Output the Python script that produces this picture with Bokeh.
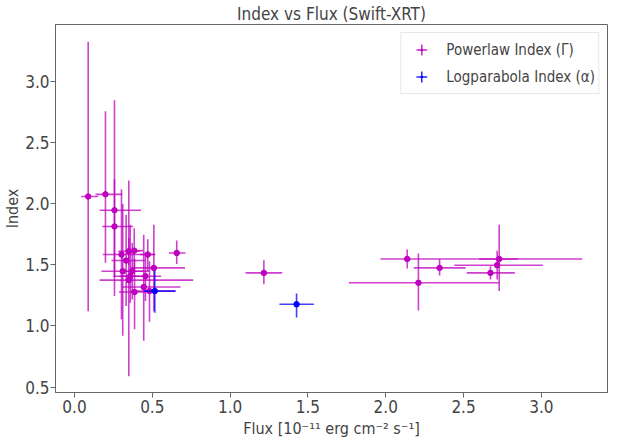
from bokeh.plotting import figure
from bokeh.models import (ColumnDataSource, Legend, LegendItem, Range1d,
                          FixedTicker, PrintfTickFormatter)
from bokeh.embed import file_html
from bokeh.resources import INLINE

# ---- data ----
# Powerlaw index (Gamma) vs flux [1e-11 erg cm^-2 s^-1]
pl_flux    = [0.088, 0.199, 0.257, 0.257, 0.302, 0.310, 0.332, 0.349, 0.349, 0.358,
              0.371, 0.384, 0.386, 0.445, 0.456, 0.471, 0.482, 0.510, 0.657, 1.217,
              2.138, 2.346, 2.210, 2.673, 2.716, 2.729]
pl_flux_lo = [0.043, 0.135, 0.161, 0.178, 0.182, 0.173, 0.238, 0.161, 0.281, 0.250,
              0.300, 0.330, 0.285, 0.306, 0.291, 0.420, 0.360, 0.360, 0.606, 1.099,
              1.967, 2.180, 1.763, 2.520, 2.440, 2.600]
pl_flux_hi = [0.152, 0.307, 0.428, 0.377, 0.516, 0.481, 0.452, 0.763, 0.420, 0.450,
              0.440, 0.440, 0.488, 0.681, 0.557, 0.520, 0.649, 0.710, 0.713, 1.335,
              3.263, 2.513, 2.727, 2.830, 3.010, 2.850]
pl_index    = [2.059, 2.077, 1.947, 1.814, 1.584, 1.448, 1.535, 1.375, 1.611, 1.407,
               1.448, 1.616, 1.277, 1.318, 1.407, 1.584, 1.285, 1.475, 1.597, 1.434,
               1.548, 1.475, 1.353, 1.434, 1.497, 1.548]
pl_index_lo = [1.120, 1.516, 1.244, 1.400, 1.054, 0.919, 1.163, 0.587, 1.500, 1.190,
               1.217, 1.450, 0.973, 0.878, 1.204, 1.450, 1.035, 1.120, 1.507, 1.340,
               1.470, 1.413, 1.127, 1.380, 1.380, 1.285]
pl_index_hi = [3.326, 2.757, 2.846, 2.200, 2.118, 1.997, 1.910, 2.190, 1.720, 1.828,
               1.680, 1.800, 1.550, 1.747, 1.600, 1.710, 1.530, 1.828, 1.700, 1.537,
               1.625, 1.548, 1.592, 1.489, 1.616, 1.828]

# Logparabola index (alpha)
lp_flux     = [0.516, 1.427]
lp_flux_lo  = [0.445, 1.317]
lp_flux_hi  = [0.649, 1.538]
lp_index    = [1.285, 1.177]
lp_index_lo = [1.108, 1.068]
lp_index_hi = [1.454, 1.266]

x_ticks = [0.0, 0.5, 1.0, 1.5, 2.0, 2.5, 3.0]
y_ticks = [0.5, 1.0, 1.5, 2.0, 2.5, 3.0]

MAG = "#bf00bf"
BLU = "#0000ff"
FONT = "DejaVu Sans Condensed"
SPINE = "#666666"

p = figure(width=622, height=444, output_backend="svg", toolbar_location=None,
           x_range=Range1d(-0.122, 3.425), y_range=Range1d(0.455, 3.467),
           min_border_left=55, min_border_right=15, min_border_top=22,
           min_border_bottom=52, title="Index vs Flux (Swift-XRT)")

p.title.align = "center"
p.title.text_font = FONT
p.title.text_font_size = "17px"
p.title.text_font_style = "normal"
p.title.standoff = 2

p.grid.visible = False
p.outline_line_color = SPINE
p.outline_line_width = 1

for ax in (p.xaxis[0], p.yaxis[0]):
    ax.major_label_text_font = FONT
    ax.major_label_text_font_size = "17px"
    ax.axis_label_text_font = FONT
    ax.axis_label_text_font_style = "normal"
    ax.axis_line_color = SPINE
    ax.major_tick_line_color = SPINE
    ax.major_tick_out = 5
    ax.major_tick_in = 0
    ax.minor_tick_line_color = None

p.xaxis.major_label_standoff = 2
p.yaxis.major_label_standoff = 1
p.xaxis.axis_label_text_font_size = "16px"
p.yaxis.axis_label_text_font_size = "16px"
p.xaxis.axis_label_standoff = 3
p.yaxis.axis_label_standoff = 0

p.xaxis.ticker = FixedTicker(ticks=x_ticks)
p.yaxis.ticker = FixedTicker(ticks=y_ticks)
p.xaxis.formatter = PrintfTickFormatter(format="%.1f")
p.yaxis.formatter = PrintfTickFormatter(format="%.1f")
p.xaxis.axis_label = "Flux [10\u207b\u00b9\u00b9 erg cm\u207b\u00b2 s\u207b\u00b9]"
p.yaxis.axis_label = "Index"

pl = ColumnDataSource(dict(x=pl_flux, xlo=pl_flux_lo, xhi=pl_flux_hi,
                           y=pl_index, ylo=pl_index_lo, yhi=pl_index_hi))
lp = ColumnDataSource(dict(x=lp_flux, xlo=lp_flux_lo, xhi=lp_flux_hi,
                           y=lp_index, ylo=lp_index_lo, yhi=lp_index_hi))

def draw(src, color):
    p.segment(x0="xlo", y0="y", x1="xhi", y1="y", source=src,
              line_color=color, line_width=1.6, line_alpha=0.75)
    p.segment(x0="x", y0="ylo", x1="x", y1="yhi", source=src,
              line_color=color, line_width=1.6, line_alpha=0.75)
    p.scatter(x="x", y="y", source=src, marker="circle", size=5.5,
              fill_color=color, line_color=color)
    # legend proxies (zero size on the plot; the legend sizes them itself)
    c = p.scatter(x="x", y="y", source=src, marker="cross", size=0,
                  line_color=color, line_width=1.5, line_alpha=0.85)
    d = p.scatter(x="x", y="y", source=src, marker="dot", size=0,
                  line_color=color, fill_color=color, line_width=2)
    return [c, d]

r_pl = draw(pl, MAG)
r_lp = draw(lp, BLU)

legend = Legend(items=[LegendItem(label="Powerlaw Index (\u0393)", renderers=r_pl),
                       LegendItem(label="Logparabola Index (\u03b1)", renderers=r_lp)],
                location="top_right")
legend.label_text_font = FONT
legend.label_text_font_size = "15px"
legend.border_line_color = "#d0d0d0"
legend.border_line_width = 1
legend.background_fill_alpha = 0.9
legend.margin = 8
legend.padding = 3
legend.spacing = 0
legend.glyph_width = 34
legend.glyph_height = 27
legend.label_standoff = 8
p.add_layout(legend)

open("out.html", "w").write(file_html(p, INLINE))
